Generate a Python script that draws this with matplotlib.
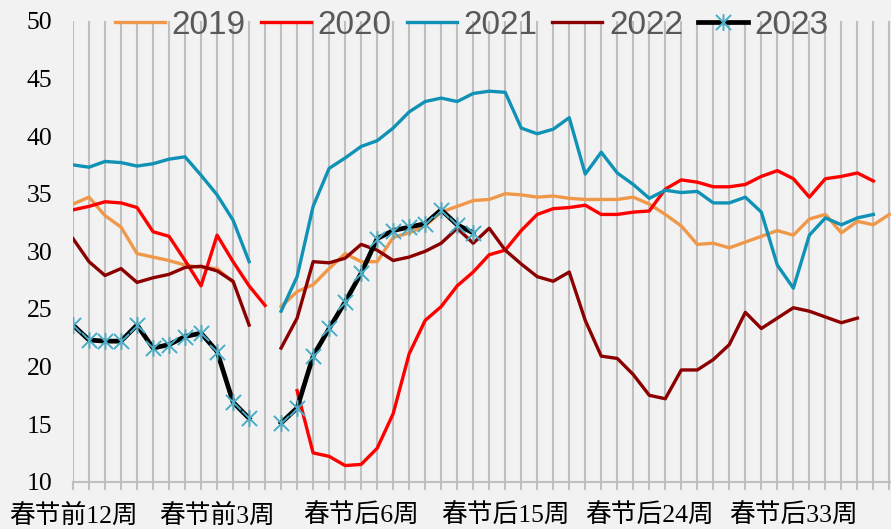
import matplotlib
matplotlib.use("Agg")
import matplotlib.pyplot as plt
import numpy as np
from matplotlib.path import Path

# 周度序列：春节前12周 ... 春节当周 ... 春节后39周
weeks = (
    [f"春节前{n}周" for n in range(12, 0, -1)]
    + ["春节当周"]
    + [f"春节后{n}周" for n in range(1, 40)]
)

y2019 = [34.1, 34.7, 33.1, 32.1, 29.8, 29.5, 29.2, 28.8, 28.6, 28.5, 27.3, None, None,
         25.2, 26.5, 27.1, 28.5, 29.8, 29.1, 29.1, 31.2, 31.6, 32.2, 33.4, 33.9, 34.4,
         34.5, 35.0, 34.9, 34.7, 34.8, 34.6, 34.5, 34.5, 34.5, 34.7, 34.1, 33.2, 32.2,
         30.6, 30.7, 30.3, 30.8, 31.3, 31.8, 31.4, 32.8, 33.2, 31.6, 32.6, 32.3, 33.2]
y2020 = [33.6, 33.9, 34.3, 34.2, 33.8, 31.7, 31.3, 29.2, 27.0, 31.4, 29.1, 27.0, 25.3,
         None, 17.9, 12.5, 12.2, 11.4, 11.5, 12.9, 15.9, 21.1, 24.0, 25.2, 27.0, 28.2,
         29.7, 30.1, 31.8, 33.2, 33.7, 33.8, 34.0, 33.2, 33.2, 33.4, 33.5, 35.4, 36.2,
         36.0, 35.6, 35.6, 35.8, 36.5, 37.0, 36.3, 34.7, 36.3, 36.5, 36.8, 36.1, None]
y2021 = [37.5, 37.3, 37.8, 37.7, 37.4, 37.6, 38.0, 38.2, 36.6, 34.9, 32.7, 29.1, None,
         24.8, 27.8, 33.9, 37.2, 38.1, 39.1, 39.6, 40.7, 42.1, 43.0, 43.3, 43.0, 43.7,
         43.9, 43.8, 40.7, 40.2, 40.6, 41.6, 36.7, 38.6, 36.8, 35.8, 34.6, 35.3, 35.1,
         35.2, 34.2, 34.2, 34.7, 33.4, 28.8, 26.8, 31.4, 32.9, 32.3, 32.9, 33.2, None]
y2022 = [31.1, 29.1, 27.9, 28.5, 27.3, 27.7, 28.0, 28.6, 28.7, 28.3, 27.4, 23.6, None,
         21.6, 24.2, 29.1, 29.0, 29.4, 30.6, 30.1, 29.2, 29.5, 30.0, 30.7, 32.0, 30.7,
         32.0, 30.1, 28.9, 27.8, 27.4, 28.2, 24.0, 20.9, 20.7, 19.3, 17.5, 17.2, 19.7,
         19.7, 20.6, 21.9, 24.7, 23.3, 24.2, 25.1, 24.8, 24.3, 23.8, 24.2, None, None]
y2023 = [23.6, 22.3, 22.2, 22.2, 23.6, 21.6, 21.9, 22.6, 22.9, 21.3, 16.9, 15.5, None,
         15.1, 16.4, 20.9, 23.3, 25.6, 28.1, 31.1, 31.8, 32.1, 32.4, 33.6, 32.3, 31.6]


def as_array(vals):
    arr = np.full(len(weeks), np.nan)
    arr[:len(vals)] = [np.nan if v is None else v for v in vals]
    return arr


bg = "#f2f2f2"
grid = "#bfbfbf"
serif_cjk = ["Liberation Serif", "Noto Sans CJK SC"]

fig = plt.figure(figsize=(8.91, 5.29), dpi=100, facecolor=bg)
ax = fig.add_axes([73 / 891, 47.3 / 529, 1 - 73 / 891, 460.8 / 529])
ax.set_facecolor(bg)

x = np.arange(len(weeks))
# Excel 风格星号标记：X 加一条竖线
star = Path([(-1, -1), (1, 1), (-1, 1), (1, -1), (0, -1.1), (0, 1.1)],
            [Path.MOVETO, Path.LINETO] * 3)

ax.plot(x, as_array(y2019), color="#f0984a", lw=2.4, label="2019")
ax.plot(x, as_array(y2020), color="#ff0000", lw=2.4, label="2020")
ax.plot(x, as_array(y2021), color="#0f92b6", lw=2.4, label="2021")
ax.plot(x, as_array(y2022), color="#8b0000", lw=2.4, label="2022")
ax.plot(x, as_array(y2023), color="black", lw=3.4, marker=star, ms=12,
        mfc="none", mec="#4bacc6", mew=1.4, label="2023")

ax.set_xlim(0, 51.1)
ax.set_ylim(10, 50)
ax.set_yticks(np.arange(10, 51, 5))
ax.set_xticks(x)
ax.set_xticklabels([w if i % 9 == 0 else "" for i, w in enumerate(weeks)])

ax.grid(axis="x", color=grid, lw=1.5)
ax.grid(axis="y", visible=False)
ax.set_axisbelow(True)
for side in ["top", "right", "left"]:
    ax.spines[side].set_visible(False)
ax.spines["bottom"].set_color(grid)
ax.spines["bottom"].set_linewidth(1.5)

ax.tick_params(axis="x", length=6, width=1.5, color=grid, pad=10, labelsize=18.5)
ax.tick_params(axis="y", length=0, pad=15, labelsize=18.5)
for lab in ax.get_xticklabels():
    lab.set_family(serif_cjk)
for lab in ax.get_yticklabels():
    lab.set_family("Liberation Serif")

leg = fig.legend(loc="center", bbox_to_anchor=(472 / 891, 1 - 25 / 529), ncol=5,
                 frameon=False, prop={"family": "Liberation Sans", "size": 24},
                 handlelength=1.5, handletextpad=0.2, columnspacing=0.45,
                 labelcolor="#595959")

fig.savefig("out.png", dpi=100, facecolor=bg)
